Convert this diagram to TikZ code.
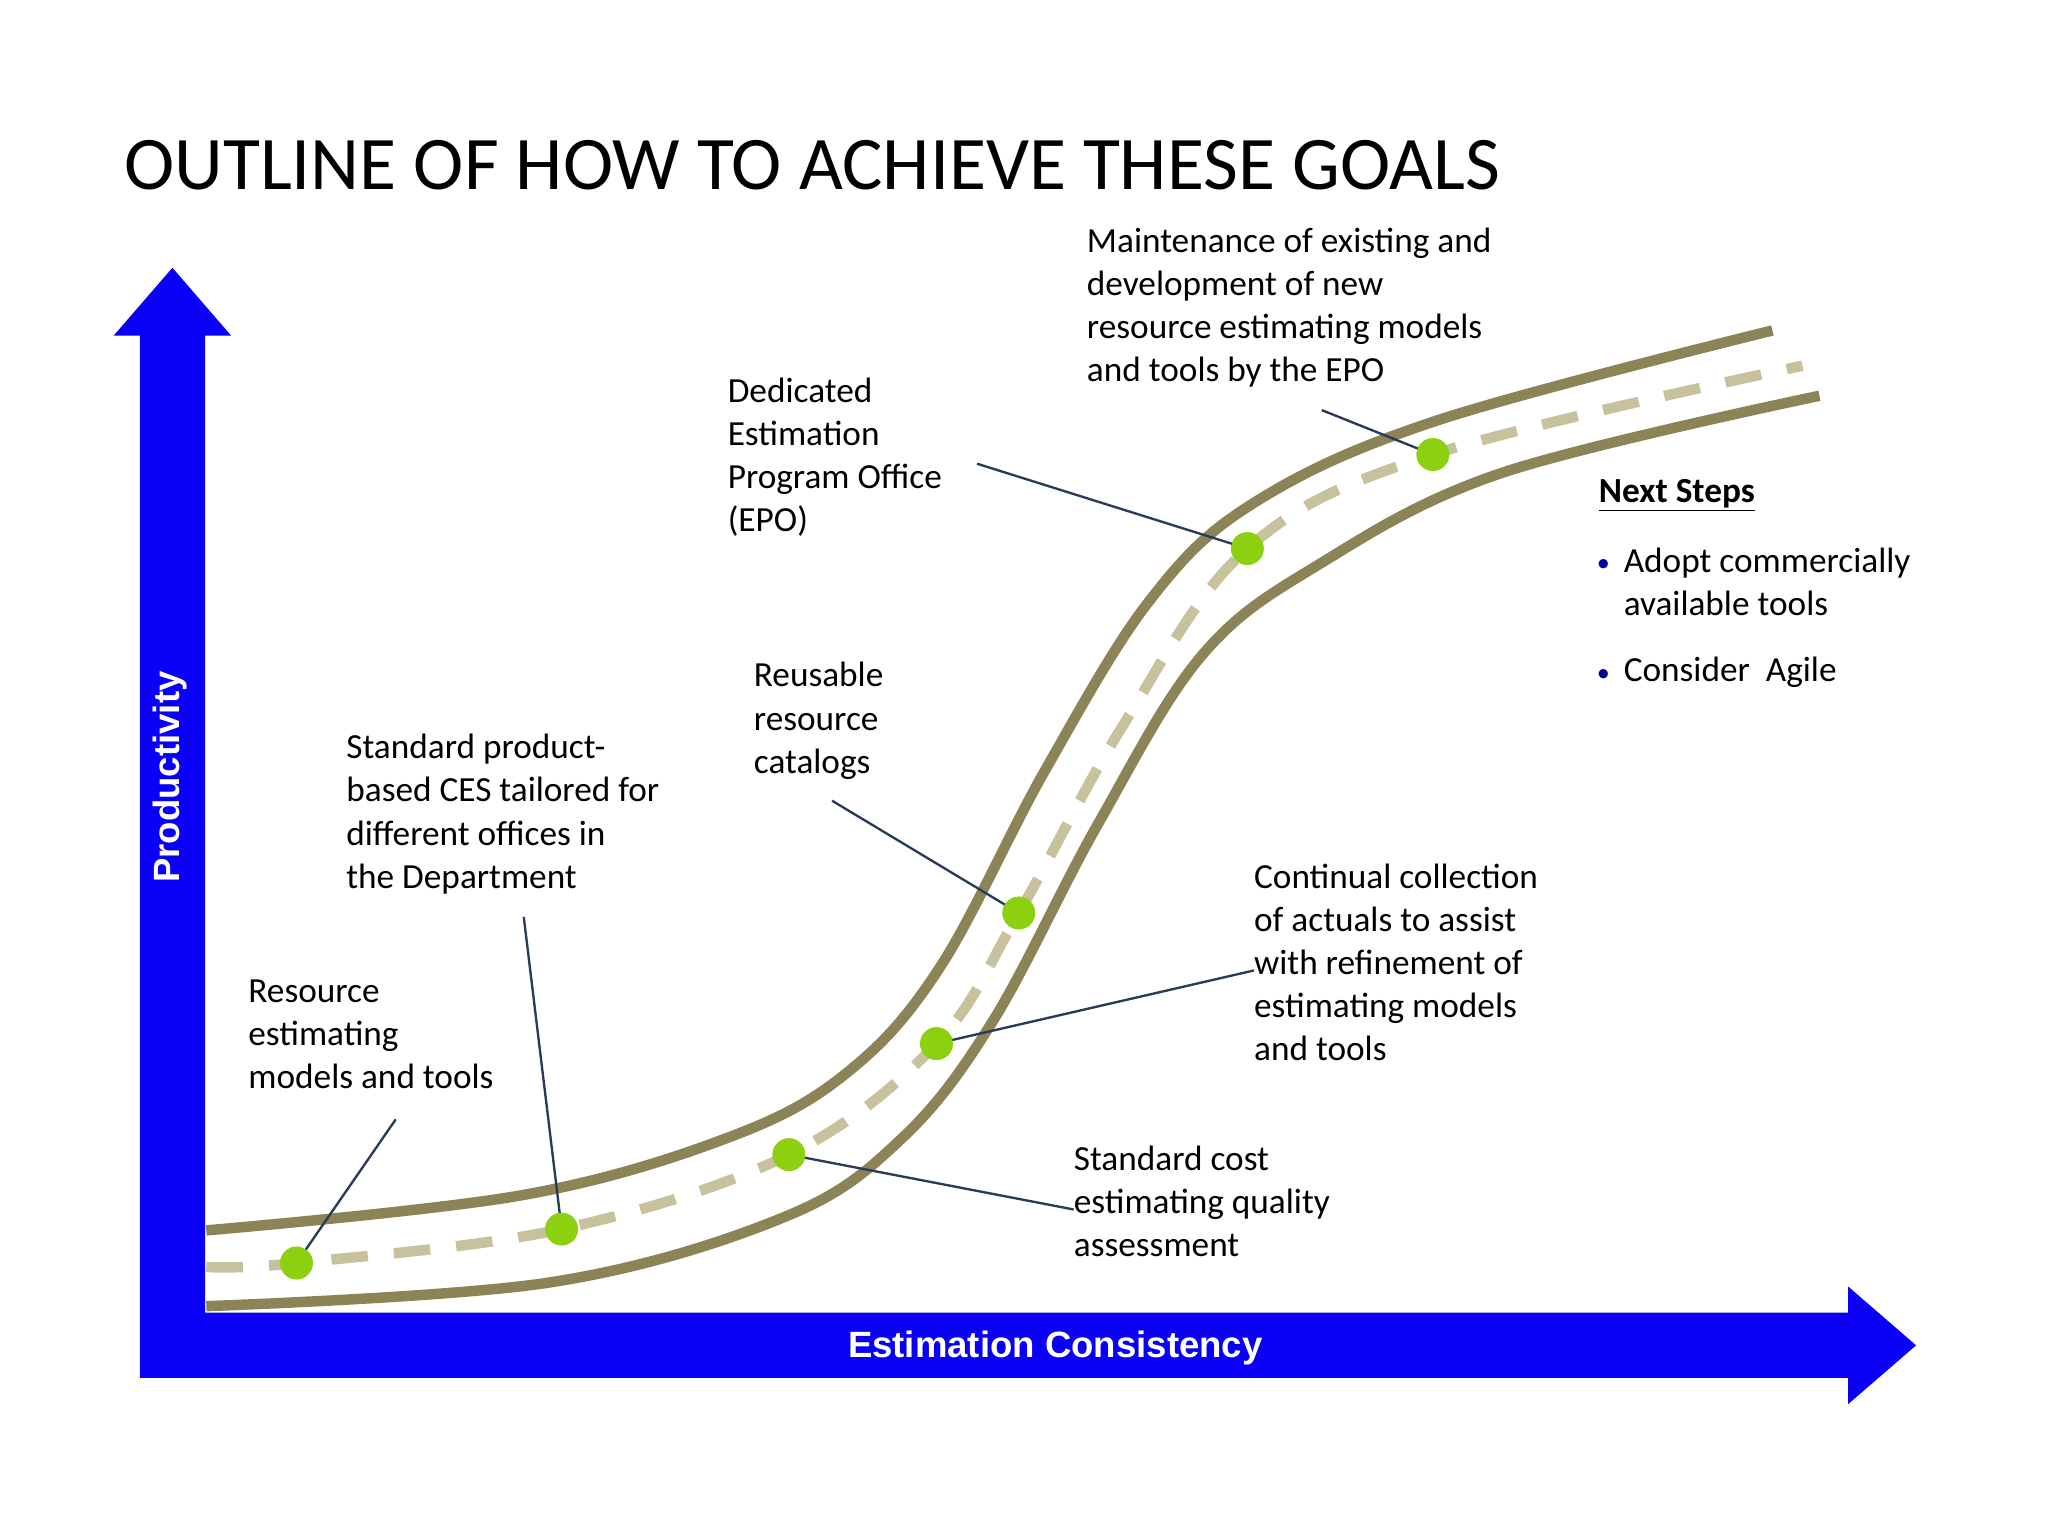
\documentclass[tikz,border=0pt]{standalone}
\usepackage{fontspec}
\setmainfont{Carlito}
\newfontfamily\arialf{Liberation Sans}
\begin{document}
\begin{tikzpicture}[x=1pt,y=-1pt,
  road/.style={draw=roadc,line width=8pt},
  dot/.style={circle,fill=dotc,minimum size=25pt,inner sep=0pt},
  lead/.style={draw=leadc,line width=1.8pt},
  lbl/.style={anchor=north west,align=left,inner sep=0pt,font=\fontsize{27}{33}\selectfont}]
\definecolor{roadc}{RGB}{140,132,86}
\definecolor{dashc}{RGB}{200,193,158}
\definecolor{dotc}{RGB}{140,208,16}
\definecolor{leadc}{RGB}{40,60,90}
\definecolor{axc}{RGB}{10,0,245}
\useasboundingbox[fill=white] (0,0) rectangle (1568,1176);
% title
\node[anchor=base west,inner sep=0pt,font=\fontsize{58}{60}\selectfont] (title) at (95,145) {OUTLINE OF HOW TO ACHIEVE THESE GOALS};
% axes
\fill[axc] (107,1055) -- (107,257) -- (87,257) -- (132,205) -- (177,257) -- (157,257) -- (157,1005) -- (1415,1005) -- (1415,985) -- (1467,1030) -- (1415,1075) -- (1415,1055) -- cycle;
\node[rotate=90,text=white,font=\arialf\bfseries\fontsize{28}{30}\selectfont] (ylab) at (130,595) {Productivity};
\node[text=white,font=\arialf\bfseries\fontsize{28}{30}\selectfont] (xlab) at (808,1032) {Estimation Consistency};
% road
\draw[road] plot[smooth,tension=0.6] coordinates {(158,942) (400,915) (560,870) (650,820) (720,740) (800,590) (880,460) (960,385) (1100,322) (1357,253)};
\draw[road] plot[smooth,tension=0.6] coordinates {(158,1000) (420,982) (600,932) (690,872) (760,782) (840,632) (920,502) (1010,432) (1150,362) (1393,303)};
\draw[draw=dashc,line width=8pt,dash pattern=on 28pt off 20pt] plot[smooth,tension=0.6] coordinates {(158,970) (227,967) (430,941) (604,884) (717,799) (780,699) (860,555) (955,420) (1097,348) (1380,280)};
% dots
\node[dot] (d1) at (227,967) {};
\node[dot] (d2) at (430,941) {};
\node[dot] (d3) at (604,884) {};
\node[dot] (d4) at (717,799) {};
\node[dot] (d5) at (780,699) {};
\node[dot] (d6) at (955,420) {};
\node[dot] (d7) at (1097,348) {};
% labels
\node[lbl] (t7) at (832,174) {Maintenance of existing and\\development of new\\resource estimating models\\and tools by the EPO};
\node[lbl] (t6) at (557,289) {Dedicated\\Estimation\\Program Office\\(EPO)};
\node[lbl] (t5) at (577,507) {Reusable\\resource\\catalogs};
\node[lbl] (t2) at (265,562) {Standard product-\\based CES tailored for\\different offices in\\the Department};
\node[lbl] (t1) at (190,750) {Resource\\estimating\\models and tools};
\node[lbl] (t4) at (960,661) {Continual collection\\of actuals to assist\\with refinement of\\estimating models\\and tools};
\node[lbl] (t3) at (822,877) {Standard cost\\estimating quality\\assessment};
\node[lbl,font=\bfseries\fontsize{27}{33}\selectfont] (ns) at (1224,367) {\underline{Next Steps}};
\node[lbl] (b1) at (1243,419) {Adopt commercially\\available tools};
\node[lbl] (b2) at (1243,503) {Consider\ \ Agile};
\node[anchor=east,text=axc!60!black,font=\fontsize{20}{20}\selectfont] (bu1) at (1236,433) {\textbullet};
\node[anchor=east,text=axc!60!black,font=\fontsize{20}{20}\selectfont] (bu2) at (1236,517) {\textbullet};
% leaders
\coordinate (c7) at (1012,314);
\coordinate (c6) at (748,355);
\coordinate (c5) at (637,613);
\coordinate (c2) at (401,702);
\coordinate (c1) at (303,857);
\coordinate (c4) at (960,743);
\coordinate (c3) at (822,926);
\draw[lead] (c7) -- (d7.center);
\draw[lead] (c6) -- (d6.center);
\draw[lead] (c5) -- (d5.center);
\draw[lead] (c2) -- (d2.center);
\draw[lead] (c1) -- (d1.center);
\draw[lead] (c4) -- (d4.center);
\draw[lead] (c3) -- (d3.center);
\foreach \d in {d1,d2,d3,d4,d5,d6,d7} \node[dot] at (\d) {};
\end{tikzpicture}
\end{document}
